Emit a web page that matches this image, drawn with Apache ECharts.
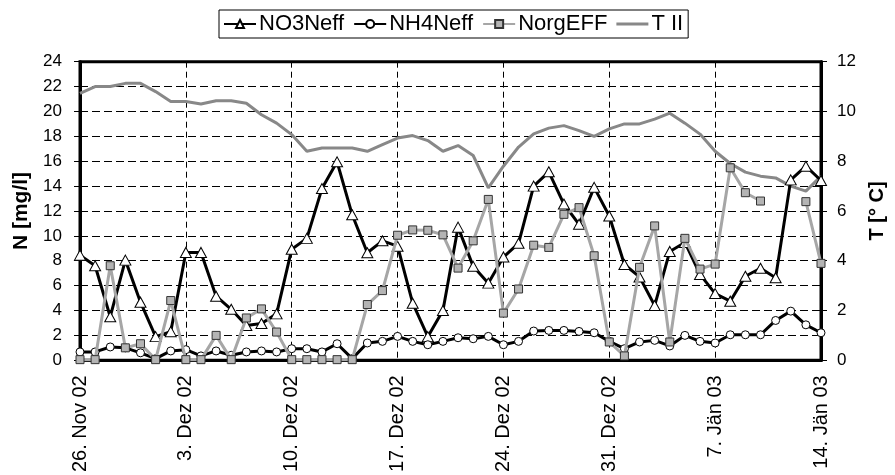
<!DOCTYPE html>
<html>
<head>
<meta charset="utf-8">
<script src="https://cdn.jsdelivr.net/npm/echarts@6/dist/echarts.min.js"></script>
<style>
html,body{margin:0;padding:0;background:#fff;}
#chart{width:895px;height:475px;}
</style>
</head>
<body>
<div id="chart"></div>
<script>
// Daily dates (26 Nov 02 .. 14 Jan 03)
const categories = [
  "26. Nov 02","27. Nov 02","28. Nov 02","29. Nov 02","30. Nov 02","1. Dez 02","2. Dez 02",
  "3. Dez 02","4. Dez 02","5. Dez 02","6. Dez 02","7. Dez 02","8. Dez 02","9. Dez 02",
  "10. Dez 02","11. Dez 02","12. Dez 02","13. Dez 02","14. Dez 02","15. Dez 02","16. Dez 02",
  "17. Dez 02","18. Dez 02","19. Dez 02","20. Dez 02","21. Dez 02","22. Dez 02","23. Dez 02",
  "24. Dez 02","25. Dez 02","26. Dez 02","27. Dez 02","28. Dez 02","29. Dez 02","30. Dez 02",
  "31. Dez 02","1. Jän 03","2. Jän 03","3. Jän 03","4. Jän 03","5. Jän 03","6. Jän 03",
  "7. Jän 03","8. Jän 03","9. Jän 03","10. Jän 03","11. Jän 03","12. Jän 03","13. Jän 03",
  "14. Jän 03"
];

const no3Neff = [8.45,7.6,3.5,8.05,4.67,1.9,2.3,8.67,8.67,5.15,4.1,2.8,2.95,
  3.73,8.93,9.8,13.8,15.95,11.7,8.64,9.6,9.17,4.59,1.9,4.0,
  10.7,7.55,6.2,8.3,9.4,14.0,15.15,12.56,10.93,13.9,11.6,7.7,6.7,
  4.4,8.75,9.47,6.9,5.36,4.75,6.75,7.4,6.64,14.5,15.6,14.45];

const nh4Neff = [0.67,0.67,1.07,1.0,0.6,0.13,0.75,0.85,0.35,0.75,0.4,0.67,0.75,
  0.67,0.93,0.93,0.67,1.33,0.13,1.39,1.52,1.92,1.52,1.25,1.52,
  1.81,1.73,1.92,1.25,1.52,2.35,2.4,2.4,2.32,2.21,1.52,0.93,1.47,
  1.6,1.15,2.0,1.52,1.39,2.05,2.05,2.05,3.2,3.95,2.85,2.21];

const norgEFF = [0.05,0.05,7.6,1.0,1.33,0.05,4.8,0.05,0.05,2.0,0.05,3.4,4.13,
  2.27,0.05,0.05,0.05,0.05,0.05,4.48,5.6,10.05,10.48,10.45,10.08,
  7.41,9.6,12.93,3.79,5.73,9.25,9.07,11.73,12.27,8.4,1.47,0.35,7.47,
  10.8,1.47,9.8,7.33,7.73,15.47,13.47,12.8,null,null,12.75,7.79];

const tII = [10.73,11.0,11.0,11.13,11.13,10.8,10.4,10.4,10.3,10.43,10.43,10.33,9.87,
  9.53,9.07,8.4,8.53,8.53,8.53,8.4,8.67,8.93,9.03,8.83,8.4,
  8.63,8.23,6.93,7.8,8.57,9.1,9.33,9.43,9.23,9.0,9.3,9.5,9.5,
  9.69,9.93,9.53,9.09,8.4,7.91,7.56,7.4,7.33,7.0,6.8,7.4];

const seriesNames = ["NO3Neff","NH4Neff","NorgEFF","T II"];
const leftTitle = "N [mg/l]";
const rightTitle = "T [° C]";

const FONT = '"Liberation Sans", Arial, sans-serif';
const chart = echarts.init(document.getElementById('chart'), null, {renderer:'canvas'});

chart.setOption({
  animation: false,
  backgroundColor: '#fff',
  textStyle: {fontFamily: FONT, color: '#000'},
  legend: {
    left: 219, top: 10,
    padding: [3, 5, 3, 4],
    itemGap: 9,
    itemWidth: 32, itemHeight: 10,
    borderColor: '#000', borderWidth: 1,
    textStyle: {fontFamily: FONT, fontSize: 22, color: '#000', padding: [0,0,0,-2]},
    data: [
      {name: seriesNames[0]},
      {name: seriesNames[1]},
      {name: seriesNames[2]},
      {name: seriesNames[3], icon: 'path://M0,0 L32,0 L32,3 L0,3 Z', itemStyle: {color: '#888'}}
    ]
  },
  grid: {
    left: 80, right: 70.5, top: 61.7, bottom: 113.3,
    show: true, borderColor: '#000', borderWidth: 3, backgroundColor: 'transparent'
  },
  xAxis: {
    type: 'category', data: categories, boundaryGap: false,
    axisLine: {lineStyle: {color: '#000', width: 3}},
    axisTick: {show: false},
    axisLabel: {interval: 6, rotate: 90, fontSize: 20, margin: 15, color: '#000', fontFamily: FONT},
    splitLine: {show: true, interval: 6, lineStyle: {color: '#000', width: 1, type: [6, 4]}}
  },
  yAxis: [{
    type: 'value', min: 0, max: 24, interval: 2, position: 'left',
    name: leftTitle, nameLocation: 'middle', nameGap: 44, nameRotate: 90,
    nameTextStyle: {fontSize: 21, fontWeight: 'bold', color: '#000', fontFamily: FONT},
    axisLine: {show: true, lineStyle: {color: '#000', width: 3}},
    axisTick: {show: true, length: 6, lineStyle: {color: '#000', width: 1}},
    axisLabel: {fontSize: 17, margin: 18, color: '#000', fontFamily: FONT},
    splitLine: {show: true, lineStyle: {color: '#000', width: 1, type: [8, 4]}}
  }, {
    type: 'value', min: 0, max: 12, interval: 2, position: 'right',
    name: rightTitle, nameLocation: 'middle', nameGap: 46, nameRotate: 90,
    nameTextStyle: {fontSize: 20, fontWeight: 'bold', color: '#000', fontFamily: FONT},
    axisLine: {show: true, lineStyle: {color: '#000', width: 3}},
    axisTick: {show: true, length: 6, lineStyle: {color: '#000', width: 1}},
    axisLabel: {fontSize: 17, margin: 16, color: '#000', fontFamily: FONT},
    splitLine: {show: false}
  }],
  series: [{
    name: seriesNames[0], type: 'line', yAxisIndex: 0, data: no3Neff,
    symbol: 'triangle', symbolSize: [11, 10], showAllSymbol: true,
    lineStyle: {color: '#000', width: 3},
    itemStyle: {color: '#fff', borderColor: '#000', borderWidth: 1},
    z: 3
  }, {
    name: seriesNames[1], type: 'line', yAxisIndex: 0, data: nh4Neff,
    symbol: 'circle', symbolSize: 8, showAllSymbol: true,
    lineStyle: {color: '#000', width: 3},
    itemStyle: {color: '#fff', borderColor: '#000', borderWidth: 1},
    z: 4
  }, {
    name: seriesNames[2], type: 'line', yAxisIndex: 0, data: norgEFF,
    symbol: 'rect', symbolSize: 8, showAllSymbol: true, connectNulls: false,
    lineStyle: {color: '#a6a6a6', width: 3},
    itemStyle: {color: '#b4b4b4', borderColor: '#333', borderWidth: 1},
    z: 5
  }, {
    name: seriesNames[3], type: 'line', yAxisIndex: 1, data: tII,
    symbol: 'none', showSymbol: false,
    lineStyle: {color: '#888', width: 3},
    itemStyle: {color: '#888'},
    z: 2
  }]
});
</script>
</body>
</html>
